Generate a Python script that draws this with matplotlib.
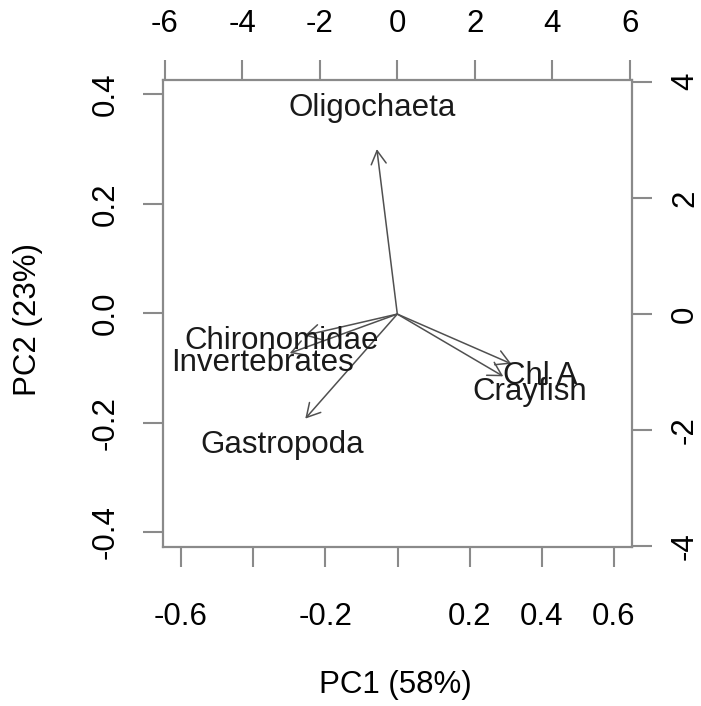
import matplotlib
matplotlib.use('Agg')
import matplotlib.pyplot as plt
from matplotlib.patches import FancyArrowPatch

plt.rcParams['font.family'] = ['Liberation Sans', 'DejaVu Sans']

# loadings (label positions, top/right scale); arrows drawn at 0.8 like R biplot
variables = ['Oligochaeta', 'Chironomidae', 'Invertebrates', 'Gastropoda', 'Chl A', 'Crayfish']
load_pc1 = [-0.66, -2.99, -3.47, -2.97, 3.68, 3.42]
load_pc2 = [3.55, -0.46, -0.84, -2.25, -1.07, -1.34]

bottom_ticks = [-0.6, -0.4, -0.2, 0.0, 0.2, 0.4, 0.6]
bottom_labels = ['-0.6', '', '-0.2', '', '0.2', '0.4', '0.6']
left_ticks = [-0.4, -0.2, 0.0, 0.2, 0.4]
left_labels = ['-0.4', '-0.2', '0.0', '0.2', '0.4']
top_ticks = [-6, -4, -2, 0, 2, 4, 6]
top_labels = ['-6', '-4', '-2', '0', '2', '4', '6']
right_ticks = [-4, -2, 0, 2, 4]
right_labels = ['-4', '-2', '0', '2', '4']

W, H = 701, 706
fs = 22.5
axcol = '#8a8a8a'
tick_len = 20 * 72 / 100

fig = plt.figure(figsize=(W / 100, H / 100), dpi=100)
pos = [163 / W, 1 - 547 / H, (632 - 163) / W, (547 - 80) / H]

ax = fig.add_axes(pos)
ax.set_xlim(-0.65, 0.65)
ax.set_ylim(-0.427, 0.426)
ax.set_xticks(bottom_ticks)
ax.set_xticklabels(bottom_labels)
ax.set_yticks(left_ticks)
ax.set_yticklabels(left_labels, rotation=90, va='center')
ax.tick_params(axis='x', length=tick_len, width=1.5, color=axcol, labelsize=fs, pad=25)
ax.tick_params(axis='y', length=tick_len, width=1.5, color=axcol, labelsize=fs, pad=16)
for s in ax.spines.values():
    s.set_color(axcol)
    s.set_linewidth(1.6)

ax2 = fig.add_axes(pos, frameon=False)
ax2.set_xlim(-6.05, 6.06)
ax2.set_ylim(-4.01, 4.03)
ax2.xaxis.tick_top()
ax2.yaxis.tick_right()
ax2.set_xticks(top_ticks)
ax2.set_xticklabels(top_labels)
ax2.set_yticks(right_ticks)
ax2.set_yticklabels(right_labels, rotation=90, va='center')
ax2.tick_params(axis='x', length=tick_len, width=1.5, color=axcol, labelsize=fs, pad=15)
ax2.tick_params(axis='y', length=tick_len, width=1.5, color=axcol, labelsize=fs, pad=13)

for name, x, y in zip(variables, load_pc1, load_pc2):
    arr = FancyArrowPatch((0, 0), (0.8 * x, 0.8 * y),
                          arrowstyle='->,head_length=0.8,head_width=0.45',
                          mutation_scale=12, color='#505050', lw=1.1,
                          shrinkA=0, shrinkB=0)
    ax2.add_patch(arr)
    ax2.text(x, y, name, ha='center', va='center', fontsize=fs, color='#1a1a1a')

fig.text(395 / W, 1 - 685 / H, 'PC1 (58%)', ha='center', va='center', fontsize=fs)
fig.text(28 / W, 1 - 320 / H, 'PC2 (23%)', ha='center', va='center', fontsize=fs, rotation=90)

fig.savefig('out.png', dpi=100)
